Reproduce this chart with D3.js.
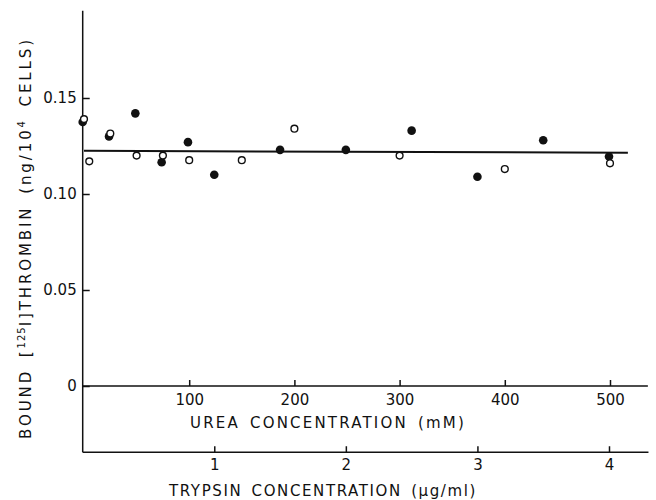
<!DOCTYPE html>
<html>
<head>
<meta charset="utf-8">
<script src="https://cdn.jsdelivr.net/npm/d3@7"></script>
<style>
  html, body { margin: 0; padding: 0; background: #fff; }
  svg text { font-family: "DejaVu Sans", "Liberation Sans", sans-serif; fill: #111; }
</style>
</head>
<body>
<svg id="chart" width="656" height="500"></svg>
<script>
// ---- data ----
// Urea series (open circles): concentration in mM
const ureaConc  = [0, 5, 25, 50, 75, 100, 150, 200, 300, 400, 500];
const ureaBound = [0.139, 0.117, 0.1315, 0.120, 0.120, 0.1176, 0.1176, 0.134, 0.120, 0.113, 0.116];
// Trypsin series (filled circles): concentration in µg/ml
const trypsinConc  = [0, 0.2, 0.4, 0.6, 0.8, 1.0, 1.5, 2.0, 2.5, 3.0, 3.5, 4.0];
const trypsinBound = [0.1375, 0.130, 0.142, 0.1165, 0.127, 0.110, 0.123, 0.123, 0.133, 0.109, 0.128, 0.1195];
// Fitted horizontal line (urea units at its ends)
const fitX = [0, 517];
const fitY = [0.1225, 0.1215];
// Tick labels
const yTicks = [0, 0.05, 0.10, 0.15];
const yTickLabels = ["0", "0.05", "0.10", "0.15"];
const ureaTicks = [100, 200, 300, 400, 500];
const trypsinTicks = [1, 2, 3, 4];

const svg = d3.select("#chart");

// ---- scales ----
const xU = d3.scaleLinear().domain([0, 500]).range([84, 610]);
const xT = d3.scaleLinear().domain([0, 4]).range([82.7, 609]);
const y  = d3.scaleLinear().domain([0, 0.15]).range([386, 98]);

const yTop = 0.1955, yBottom = -0.0345;
const ureaEnd = 536, trypsinEnd = 4.3;
const axisX = 82.7;
const FS = 15;

// ---- y axis ----
const gY = svg.append("g").attr("transform", `translate(${axisX},0)`)
  .call(d3.axisLeft(y).tickValues(yTicks)
    .tickFormat((d, i) => yTickLabels[i])
    .tickSizeInner(-7).tickSizeOuter(0).tickPadding(6));
gY.select(".domain").remove();
gY.selectAll(".tick line").attr("stroke", "#111").attr("stroke-width", 1.5);
gY.selectAll(".tick text").attr("font-size", FS).style("fill", "#111")
  .style("font-family", '"DejaVu Sans", sans-serif');
svg.append("line")
  .attr("x1", axisX).attr("x2", axisX)
  .attr("y1", y(yTop)).attr("y2", y(yBottom))
  .attr("stroke", "#111").attr("stroke-width", 1.5);

// ---- urea axis (at y = 0) ----
const gU = svg.append("g").attr("transform", `translate(0,${y(0)})`)
  .call(d3.axisBottom(xU).tickValues(ureaTicks).tickFormat(d3.format("d"))
    .tickSizeInner(-6).tickSizeOuter(0).tickPadding(8));
gU.select(".domain").remove();
gU.selectAll(".tick line").attr("stroke", "#111").attr("stroke-width", 1.5);
gU.selectAll(".tick text").attr("font-size", FS).style("fill", "#111")
  .style("font-family", '"DejaVu Sans", sans-serif');
svg.append("line")
  .attr("x1", axisX).attr("x2", xU(ureaEnd))
  .attr("y1", y(0)).attr("y2", y(0))
  .attr("stroke", "#111").attr("stroke-width", 1.5);

// ---- trypsin axis (bottom) ----
const gT = svg.append("g").attr("transform", `translate(0,${y(yBottom)})`)
  .call(d3.axisBottom(xT).tickValues(trypsinTicks).tickFormat(d3.format("d"))
    .tickSizeInner(-6).tickSizeOuter(0).tickPadding(7));
gT.select(".domain").remove();
gT.selectAll(".tick line").attr("stroke", "#111").attr("stroke-width", 1.5);
gT.selectAll(".tick text").attr("font-size", FS).style("fill", "#111")
  .style("font-family", '"DejaVu Sans", sans-serif');
svg.append("line")
  .attr("x1", axisX).attr("x2", xT(trypsinEnd))
  .attr("y1", y(yBottom)).attr("y2", y(yBottom))
  .attr("stroke", "#111").attr("stroke-width", 1.5);

// ---- axis titles ----
svg.append("text")
  .attr("x", 328).attr("y", 428)
  .attr("text-anchor", "middle").attr("font-size", FS)
  .attr("letter-spacing", 2.2).attr("word-spacing", 3)
  .text("UREA CONCENTRATION (mM)");

svg.append("text")
  .attr("x", 323).attr("y", 496)
  .attr("text-anchor", "middle").attr("font-size", FS)
  .attr("letter-spacing", 1.6).attr("word-spacing", 3)
  .text("TRYPSIN CONCENTRATION (µg/ml)");

const yl = svg.append("text")
  .attr("transform", "translate(31,238) rotate(-90)")
  .attr("text-anchor", "middle").attr("font-size", FS)
  .attr("letter-spacing", 2.9).attr("word-spacing", 4);
yl.append("tspan").text("BOUND [");
yl.append("tspan").attr("dy", -6).attr("font-size", 10).attr("letter-spacing", 1).text("125");
yl.append("tspan").attr("dy", 6).text("I]THROMBIN (ng/10");
yl.append("tspan").attr("dy", -6).attr("font-size", 10).text("4");
yl.append("tspan").attr("dy", 6).text(" CELLS)");

// ---- points ----
const trypsinData = trypsinConc.map((c, i) => ({c, v: trypsinBound[i]}));
const ureaData = ureaConc.map((c, i) => ({c, v: ureaBound[i]}));

svg.append("g").selectAll("circle").data(trypsinData).join("circle")
  .attr("cx", d => xT(d.c)).attr("cy", d => y(d.v))
  .attr("r", 4.3).attr("fill", "#111");

svg.append("g").selectAll("circle").data(ureaData).join("circle")
  .attr("cx", d => xU(d.c)).attr("cy", d => y(d.v))
  .attr("r", 3.4).attr("fill", "#fff")
  .attr("stroke", "#111").attr("stroke-width", 1.4);

// ---- fitted line ----
svg.append("line")
  .attr("x1", xU(fitX[0])).attr("x2", xU(fitX[1]))
  .attr("y1", y(fitY[0])).attr("y2", y(fitY[1]))
  .attr("stroke", "#111").attr("stroke-width", 2);
</script>
</body>
</html>
